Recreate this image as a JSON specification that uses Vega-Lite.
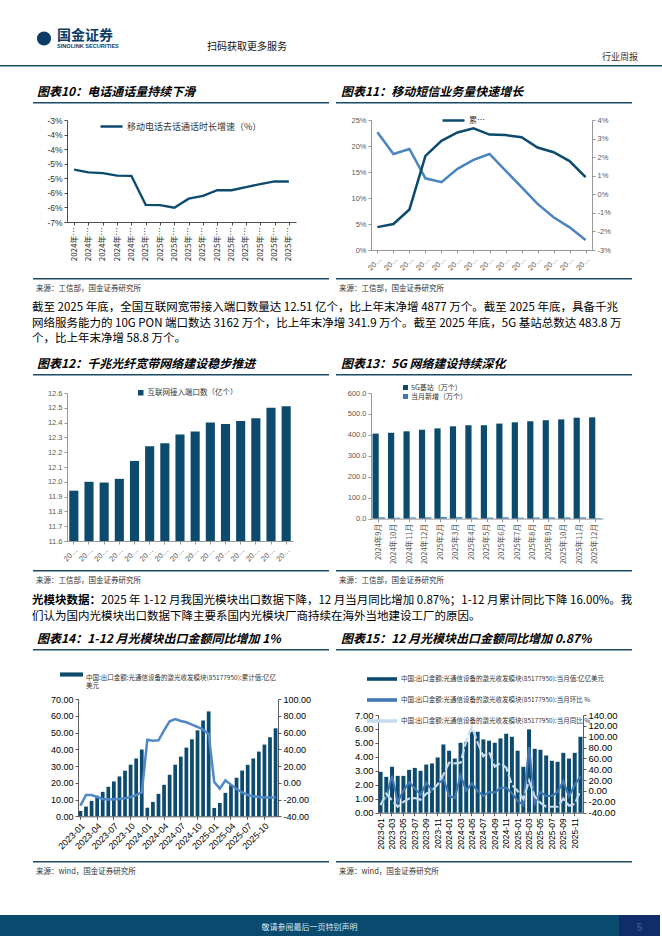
{
"$schema": "https://vega.github.io/schema/vega-lite/v6.json",
"background": "#ffffff",
"padding": 0,
"autosize": {"type": "pad"},
"bounds": "flush",
"align": "each",
"spacing": 0,
"columns": 7,
"resolve": {"scale": {"color": "independent", "strokeDash": "independent"}, "legend": {"color": "independent", "strokeDash": "independent"}},
"config": {
  "view": {"stroke": null},
  "font": "Noto Sans CJK SC",
  "axis": {"grid": false, "title": null, "labelFont": "Liberation Sans", "labelColor": "#404040", "labelFontSize": 8, "domainColor": "#7f7f7f", "tickColor": "#7f7f7f", "domainWidth": 0.8, "tickWidth": 0.8, "tickSize": 3, "labelPadding": 2},
  "legend": {"title": null, "orient": "none", "labelFont": "Noto Sans CJK SC", "labelColor": "#333333", "labelLimit": 400},
  "title": {"font": "Noto Sans CJK SC", "color": "#000000", "anchor": "start"}
},
"concat": [
  {"width": 33, "height": 30, "data": {"values": []}, "mark": "point", "view": {"fill": "#ffffff", "stroke": null}},
  {"width": 1, "height": 1, "data": {"values": []}, "mark": "point"},
  {"width": 1, "height": 1, "data": {"values": []}, "mark": "point",
   "title": {"text": "国金证券", "subtitle": "SINOLINK SECURITIES", "orient": "top", "anchor": "start", "offset": -49.5, "dx": -10, "fontSize": 14, "fontWeight": "bold", "color": "#0c3c66", "subtitleFont": "Liberation Sans", "subtitleFontSize": 5.6, "subtitleFontWeight": "bold", "subtitleColor": "#0c3c66", "subtitlePadding": 1}},
  {"width": 1, "height": 1, "data": {"values": []}, "mark": "point"},
  {"width": 1, "height": 1, "data": {"values": []}, "mark": "point"},
  {"width": 261, "height": 1, "data": {"values": []}, "mark": "point",
   "title": {"text": "行业周报", "orient": "top", "anchor": "end", "offset": -61.5, "dx": 6, "fontSize": 9, "fontWeight": "normal", "color": "#333333"}},
  {"width": 1, "height": 1, "data": {"values": []}, "mark": "point"},

  {"width": 1, "height": 34.5, "data": {"values": []}, "mark": "point"},
  {"width": 22, "height": 17, "data": {"values": [{"n": "logo"}]}, "mark": {"type": "point", "shape": "circle", "filled": true, "size": 200, "color": "#0c3c66", "opacity": 1}},
  {"width": 1, "height": 1, "data": {"values": []}, "mark": "point",
   "title": {"text": "扫码获取更多服务", "orient": "top", "anchor": "start", "offset": -22, "dx": 140, "fontSize": 10, "fontWeight": "normal", "color": "#111111"}},
  {"width": 1, "height": 1, "data": {"values": []}, "mark": "point"},
  {"width": 1, "height": 1, "data": {"values": []}, "mark": "point"},
  {"width": 1, "height": 1, "data": {"values": []}, "mark": "point"},
  {"width": 1, "height": 1, "data": {"values": []}, "mark": "point"},

  {"width": 33, "height": 1.5, "data": {"values": []}, "mark": "point", "view": {"fill": "#174a63", "stroke": null}},
  {"width": 34, "height": 1.5, "data": {"values": []}, "mark": "point", "view": {"fill": "#174a63", "stroke": null}},
  {"width": 262, "height": 1.5, "data": {"values": []}, "mark": "point", "view": {"fill": "#174a63", "stroke": null}},
  {"width": 7, "height": 1.5, "data": {"values": []}, "mark": "point", "view": {"fill": "#174a63", "stroke": null}},
  {"width": 35, "height": 1.5, "data": {"values": []}, "mark": "point", "view": {"fill": "#174a63", "stroke": null}},
  {"width": 261, "height": 1.5, "data": {"values": []}, "mark": "point", "view": {"fill": "#174a63", "stroke": null}},
  {"width": 30, "height": 1.5, "data": {"values": []}, "mark": "point", "view": {"fill": "#174a63", "stroke": null}},

  {"width": 1, "height": 34.5, "data": {"values": []}, "mark": "point"},
  {"width": 1, "height": 1, "data": {"values": []}, "mark": "point"},
  {"width": 1, "height": 1, "data": {"values": []}, "mark": "point"},
  {"width": 1, "height": 1, "data": {"values": []}, "mark": "point"},
  {"width": 1, "height": 1, "data": {"values": []}, "mark": "point"},
  {"width": 1, "height": 1, "data": {"values": []}, "mark": "point"},
  {"width": 1, "height": 1, "data": {"values": []}, "mark": "point"},

  {"width": 1, "height": 1, "data": {"values": []}, "mark": "point"},
  {"width": 34, "height": 1.5, "data": {"values": []}, "mark": "point", "view": {"fill": "#1a4a66", "stroke": null},
   "title": {"text": "图表10：电话通话量持续下滑", "orient": "top", "anchor": "start", "offset": 3, "dx": 4, "fontSize": 12, "fontWeight": "bold", "fontStyle": "italic", "color": "#000000"}},
  {"width": 262, "height": 1.5, "data": {"values": []}, "mark": "point", "view": {"fill": "#1a4a66", "stroke": null}},
  {"width": 1, "height": 1, "data": {"values": []}, "mark": "point"},
  {"width": 35, "height": 1.5, "data": {"values": []}, "mark": "point", "view": {"fill": "#1a4a66", "stroke": null},
   "title": {"text": "图表11：移动短信业务量快速增长", "orient": "top", "anchor": "start", "offset": 3, "dx": 5, "fontSize": 12, "fontWeight": "bold", "fontStyle": "italic", "color": "#000000"}},
  {"width": 261, "height": 1.5, "data": {"values": []}, "mark": "point", "view": {"fill": "#1a4a66", "stroke": null}},
  {"width": 1, "height": 1, "data": {"values": []}, "mark": "point"},

  {"width": 1, "height": 16, "data": {"values": []}, "mark": "point"},
  {"width": 1, "height": 1, "data": {"values": []}, "mark": "point"},
  {"width": 1, "height": 1, "data": {"values": []}, "mark": "point"},
  {"width": 1, "height": 1, "data": {"values": []}, "mark": "point"},
  {"width": 1, "height": 1, "data": {"values": []}, "mark": "point"},
  {"width": 1, "height": 1, "data": {"values": []}, "mark": "point"},
  {"width": 1, "height": 1, "data": {"values": []}, "mark": "point"},

  {"width": 1, "height": 1, "data": {"values": []}, "mark": "point"},
  {"width": 1, "height": 1, "data": {"values": []}, "mark": "point"},
  {"width": 229, "height": 102,
   "data": {"values": [
     {"p": "2024年1-8月", "v": -4.70}, {"p": "2024年1-9月", "v": -4.80}, {"p": "2024年1-10月", "v": -4.82},
     {"p": "2024年1-11月", "v": -4.91}, {"p": "2024年1-12月", "v": -4.92}, {"p": "2025年1-2月", "v": -5.91},
     {"p": "2025年1-3月", "v": -5.92}, {"p": "2025年1-4月", "v": -6.01}, {"p": "2025年1-5月", "v": -5.70},
     {"p": "2025年1-6月", "v": -5.60}, {"p": "2025年1-7月", "v": -5.41}, {"p": "2025年1-8月", "v": -5.41},
     {"p": "2025年1-9月", "v": -5.30}, {"p": "2025年1-10月", "v": -5.20}, {"p": "2025年1-11月", "v": -5.11},
     {"p": "2025年1-12月", "v": -5.11}
   ]},
   "mark": {"type": "line", "strokeWidth": 2.3},
   "encoding": {
     "x": {"field": "p", "type": "ordinal", "sort": null, "scale": {"type": "point", "padding": 0.5},
           "axis": {"labelAngle": -90, "labelLimit": 34, "labelFontSize": 8, "labelFont": "Noto Sans CJK SC", "labelColor": "#333333", "domainColor": "#222222", "tickColor": "#222222"}},
     "y": {"field": "v", "type": "quantitative", "scale": {"domain": [-6.5, -3], "zero": false, "nice": false},
           "axis": {"values": [-3, -3.5, -4, -4.5, -5, -5.5, -6, -6.5], "labelExpr": "replace(format(datum.value, '.0f'), '−', '-') + '%'", "labelFontSize": 8.5, "labelColor": "#333333", "domainColor": "#222222", "tickColor": "#222222"}},
     "color": {"datum": "移动电话去话通话时长增速（%）", "scale": {"range": ["#0d4b6e"]},
               "legend": {"orient": "none", "legendX": 32, "legendY": -6, "symbolType": "stroke", "symbolSize": 484, "symbolStrokeWidth": 2.5, "labelFontSize": 9, "labelOffset": 3}}
   }},
  {"width": 1, "height": 1, "data": {"values": []}, "mark": "point"},
  {"width": 1, "height": 1, "data": {"values": []}, "mark": "point"},
  {"width": 221, "height": 130,
   "data": {"values": [
     {"c": "2024年11月", "d": 0.044, "l": 0.0334}, {"c": "2024年12月", "d": 0.050, "l": 0.0217},
     {"c": "2025年1月", "d": 0.078, "l": 0.0244}, {"c": "2025年2月", "d": 0.181, "l": 0.0086},
     {"c": "2025年3月", "d": 0.210, "l": 0.0065}, {"c": "2025年4月", "d": 0.226, "l": 0.0137},
     {"c": "2025年5月", "d": 0.234, "l": 0.0185}, {"c": "2025年6月", "d": 0.222, "l": 0.0217},
     {"c": "2025年7月", "d": 0.221, "l": 0.0128}, {"c": "2025年8月", "d": 0.217, "l": 0.0038},
     {"c": "2025年9月", "d": 0.197, "l": -0.0052}, {"c": "2025年10月", "d": 0.188, "l": -0.0124},
     {"c": "2025年11月", "d": 0.171, "l": -0.0178}, {"c": "2025年12月", "d": 0.140, "l": -0.0246}
   ]},
   "encoding": {
     "x": {"field": "c", "type": "ordinal", "sort": null, "scale": {"type": "point", "padding": 0.4},
           "axis": {"labelAngle": -45, "labelLimit": 18, "labelFontSize": 7.5, "labelColor": "#595959"}}
   },
   "layer": [
     {"mark": {"type": "line", "strokeWidth": 2.5, "color": "#4a85bf"},
      "encoding": {"y": {"field": "l", "type": "quantitative", "scale": {"domain": [-0.03, 0.04], "nice": false, "zero": false},
                         "axis": {"orient": "right", "values": [-0.03, -0.02, -0.01, 0, 0.01, 0.02, 0.03, 0.04], "labelExpr": "replace(format(datum.value, '.0%'), '−', '-')", "labelFontSize": 7.5, "labelColor": "#595959"}}}},
     {"mark": {"type": "line", "strokeWidth": 2.5},
      "encoding": {"y": {"field": "d", "type": "quantitative", "scale": {"domain": [0, 0.25], "nice": false},
                         "axis": {"orient": "left", "values": [0, 0.05, 0.1, 0.15, 0.2, 0.25], "format": ".0%", "labelFontSize": 7.5, "labelColor": "#595959"}},
                   "color": {"datum": "累计短信业务量同比增速", "scale": {"range": ["#0d4b6e"]},
                             "legend": {"orient": "none", "legendX": 70, "legendY": -12, "symbolType": "stroke", "symbolSize": 484, "symbolStrokeWidth": 2.5, "labelFontSize": 8, "labelLimit": 18, "labelOffset": 3}}}}
   ],
   "resolve": {"scale": {"y": "independent"}}},
  {"width": 1, "height": 1, "data": {"values": []}, "mark": "point"},

  {"width": 1, "height": 27.5, "data": {"values": []}, "mark": "point"},
  {"width": 1, "height": 1, "data": {"values": []}, "mark": "point"},
  {"width": 1, "height": 1, "data": {"values": []}, "mark": "point"},
  {"width": 1, "height": 1, "data": {"values": []}, "mark": "point"},
  {"width": 1, "height": 1, "data": {"values": []}, "mark": "point"},
  {"width": 1, "height": 1, "data": {"values": []}, "mark": "point"},
  {"width": 1, "height": 1, "data": {"values": []}, "mark": "point"},

  {"width": 1, "height": 1, "data": {"values": []}, "mark": "point"},
  {"width": 34, "height": 1.5, "data": {"values": []}, "mark": "point", "view": {"fill": "#1a4a66", "stroke": null},
   "title": {"text": "来源：工信部，国金证券研究所", "orient": "bottom", "anchor": "start", "offset": 5, "dx": 3, "fontSize": 7.5, "fontWeight": "normal", "color": "#333333"}},
  {"width": 262, "height": 1.5, "data": {"values": []}, "mark": "point", "view": {"fill": "#1a4a66", "stroke": null}},
  {"width": 1, "height": 1, "data": {"values": []}, "mark": "point"},
  {"width": 35, "height": 1.5, "data": {"values": []}, "mark": "point", "view": {"fill": "#1a4a66", "stroke": null},
   "title": {"text": "来源：工信部，国金证券研究所", "orient": "bottom", "anchor": "start", "offset": 5, "dx": 3, "fontSize": 7.5, "fontWeight": "normal", "color": "#333333"}},
  {"width": 261, "height": 1.5, "data": {"values": []}, "mark": "point", "view": {"fill": "#1a4a66", "stroke": null}},
  {"width": 1, "height": 1, "data": {"values": []}, "mark": "point"},

  {"width": 1, "height": 21, "data": {"values": []}, "mark": "point"},
  {"width": 1, "height": 1, "data": {"values": []}, "mark": "point"},
  {"width": 1, "height": 1, "data": {"values": []}, "mark": "point"},
  {"width": 1, "height": 1, "data": {"values": []}, "mark": "point"},
  {"width": 1, "height": 1, "data": {"values": []}, "mark": "point"},
  {"width": 1, "height": 1, "data": {"values": []}, "mark": "point"},
  {"width": 1, "height": 1, "data": {"values": []}, "mark": "point"},

  {"width": 1, "height": 1, "data": {"values": []}, "mark": "point"},
  {"width": 1, "height": 1, "data": {"values": []}, "mark": "point",
   "title": {"text": ["截至 2025 年底，全国互联网宽带接入端口数量达 12.51 亿个，比上年末净增 4877 万个。截至 2025 年底，具备千兆", "网络服务能力的 10G PON 端口数达 3162 万个，比上年末净增 341.9 万个。截至 2025 年底，5G 基站总数达 483.8 万", "个，比上年末净增 58.8 万个。"], "orient": "bottom", "anchor": "start", "offset": 0, "dx": -1, "fontSize": 11.5, "fontWeight": "normal", "lineHeight": 15.5, "color": "#000000"}},
  {"width": 1, "height": 1, "data": {"values": []}, "mark": "point"},
  {"width": 1, "height": 1, "data": {"values": []}, "mark": "point"},
  {"width": 1, "height": 1, "data": {"values": []}, "mark": "point"},
  {"width": 1, "height": 1, "data": {"values": []}, "mark": "point"},
  {"width": 1, "height": 1, "data": {"values": []}, "mark": "point"},

  {"width": 1, "height": 71.5, "data": {"values": []}, "mark": "point"},
  {"width": 1, "height": 1, "data": {"values": []}, "mark": "point"},
  {"width": 1, "height": 1, "data": {"values": []}, "mark": "point"},
  {"width": 1, "height": 1, "data": {"values": []}, "mark": "point"},
  {"width": 1, "height": 1, "data": {"values": []}, "mark": "point"},
  {"width": 1, "height": 1, "data": {"values": []}, "mark": "point"},
  {"width": 1, "height": 1, "data": {"values": []}, "mark": "point"},

  {"width": 1, "height": 1, "data": {"values": []}, "mark": "point"},
  {"width": 34, "height": 1.5, "data": {"values": []}, "mark": "point", "view": {"fill": "#1a4a66", "stroke": null},
   "title": {"text": "图表12：千兆光纤宽带网络建设稳步推进", "orient": "top", "anchor": "start", "offset": 3, "dx": 4, "fontSize": 12, "fontWeight": "bold", "fontStyle": "italic", "color": "#000000"}},
  {"width": 262, "height": 1.5, "data": {"values": []}, "mark": "point", "view": {"fill": "#1a4a66", "stroke": null}},
  {"width": 1, "height": 1, "data": {"values": []}, "mark": "point"},
  {"width": 35, "height": 1.5, "data": {"values": []}, "mark": "point", "view": {"fill": "#1a4a66", "stroke": null},
   "title": {"text": "图表13：5G 网络建设持续深化", "orient": "top", "anchor": "start", "offset": 3, "dx": 5, "fontSize": 12, "fontWeight": "bold", "fontStyle": "italic", "color": "#000000"}},
  {"width": 261, "height": 1.5, "data": {"values": []}, "mark": "point", "view": {"fill": "#1a4a66", "stroke": null}},
  {"width": 1, "height": 1, "data": {"values": []}, "mark": "point"},

  {"width": 1, "height": 17, "data": {"values": []}, "mark": "point"},
  {"width": 1, "height": 1, "data": {"values": []}, "mark": "point"},
  {"width": 1, "height": 1, "data": {"values": []}, "mark": "point"},
  {"width": 1, "height": 1, "data": {"values": []}, "mark": "point"},
  {"width": 1, "height": 1, "data": {"values": []}, "mark": "point"},
  {"width": 1, "height": 1, "data": {"values": []}, "mark": "point"},
  {"width": 1, "height": 1, "data": {"values": []}, "mark": "point"},

  {"width": 1, "height": 1, "data": {"values": []}, "mark": "point"},
  {"width": 1, "height": 1, "data": {"values": []}, "mark": "point"},
  {"width": 226, "height": 148,
   "data": {"values": [
     {"c": "2024年9月", "v": 11.94}, {"c": "2024年10月", "v": 12.00}, {"c": "2024年11月", "v": 11.995},
     {"c": "2024年12月", "v": 12.02}, {"c": "2025年2月", "v": 12.14}, {"c": "2025年3月", "v": 12.24},
     {"c": "2025年4月", "v": 12.26}, {"c": "2025年5月", "v": 12.32}, {"c": "2025年6月", "v": 12.34},
     {"c": "2025年7月", "v": 12.40}, {"c": "2025年8月", "v": 12.39}, {"c": "2025年9月", "v": 12.41},
     {"c": "2025年10月", "v": 12.43}, {"c": "2025年11月", "v": 12.50}, {"c": "2025年12月", "v": 12.51}
   ]},
   "mark": {"type": "bar", "clip": true},
   "encoding": {
     "x": {"field": "c", "type": "ordinal", "sort": null, "scale": {"paddingInner": 0.4, "paddingOuter": 0.15},
           "axis": {"labelAngle": -45, "labelLimit": 17, "labelFontSize": 7.5, "labelColor": "#595959"}},
     "y": {"field": "v", "type": "quantitative", "scale": {"domain": [11.6, 12.6], "zero": false, "nice": false},
           "axis": {"values": [11.6, 11.7, 11.8, 11.9, 12.0, 12.1, 12.2, 12.3, 12.4, 12.5, 12.6], "format": ".1f", "labelFontSize": 7.5, "labelColor": "#595959"}},
     "y2": {"datum": 11.6},
     "color": {"datum": "互联网接入端口数（亿个）", "scale": {"range": ["#0d4b6e"]},
               "legend": {"orient": "none", "legendX": 70, "legendY": -4, "symbolType": "square", "symbolSize": 30, "labelFontSize": 7.5, "labelOffset": 3}}
   }},
  {"width": 1, "height": 1, "data": {"values": []}, "mark": "point"},
  {"width": 1, "height": 1, "data": {"values": []}, "mark": "point"},
  {"width": 232, "height": 125.6,
   "data": {"values": [
     {"c": "2024年9月", "s": "5G基站（万个）", "v": 406}, {"c": "2024年10月", "s": "5G基站（万个）", "v": 410},
     {"c": "2024年11月", "s": "5G基站（万个）", "v": 417}, {"c": "2024年12月", "s": "5G基站（万个）", "v": 425},
     {"c": "2025年2月", "s": "5G基站（万个）", "v": 431}, {"c": "2025年3月", "s": "5G基站（万个）", "v": 441},
     {"c": "2025年4月", "s": "5G基站（万个）", "v": 446}, {"c": "2025年5月", "s": "5G基站（万个）", "v": 446},
     {"c": "2025年6月", "s": "5G基站（万个）", "v": 454}, {"c": "2025年7月", "s": "5G基站（万个）", "v": 460},
     {"c": "2025年8月", "s": "5G基站（万个）", "v": 465}, {"c": "2025年9月", "s": "5G基站（万个）", "v": 470},
     {"c": "2025年10月", "s": "5G基站（万个）", "v": 474}, {"c": "2025年11月", "s": "5G基站（万个）", "v": 482},
     {"c": "2025年12月", "s": "5G基站（万个）", "v": 483.8},
     {"c": "2024年9月", "s": "当月新增（万个）", "v": 5.9}, {"c": "2024年10月", "s": "当月新增（万个）", "v": 4.1},
     {"c": "2024年11月", "s": "当月新增（万个）", "v": 5.0}, {"c": "2024年12月", "s": "当月新增（万个）", "v": 5.9},
     {"c": "2025年2月", "s": "当月新增（万个）", "v": 7.5}, {"c": "2025年3月", "s": "当月新增（万个）", "v": 7.0},
     {"c": "2025年4月", "s": "当月新增（万个）", "v": 4.4}, {"c": "2025年5月", "s": "当月新增（万个）", "v": 4.7},
     {"c": "2025年6月", "s": "当月新增（万个）", "v": 6.3}, {"c": "2025年7月", "s": "当月新增（万个）", "v": 4.2},
     {"c": "2025年8月", "s": "当月新增（万个）", "v": 5.4}, {"c": "2025年9月", "s": "当月新增（万个）", "v": 5.5},
     {"c": "2025年10月", "s": "当月新增（万个）", "v": 5.6}, {"c": "2025年11月", "s": "当月新增（万个）", "v": 5.6},
     {"c": "2025年12月", "s": "当月新增（万个）", "v": 2.6}
   ]},
   "mark": {"type": "bar"},
   "encoding": {
     "x": {"field": "c", "type": "ordinal", "sort": null, "scale": {"paddingInner": 0.2, "paddingOuter": 0.1},
           "axis": {"labelAngle": -90, "labelFontSize": 7.5, "labelColor": "#595959", "labelFont": "Noto Sans CJK SC"}},
     "xOffset": {"field": "s", "sort": null},
     "y": {"field": "v", "type": "quantitative", "scale": {"domain": [0, 600], "nice": false},
           "axis": {"values": [0, 100, 200, 300, 400, 500, 600], "format": ".1f", "labelFontSize": 7.5, "labelColor": "#595959"}},
     "color": {"field": "s", "type": "nominal", "sort": null, "scale": {"domain": ["5G基站（万个）", "当月新增（万个）"], "range": ["#0d4b6e", "#3a78b5"]},
               "legend": {"orient": "none", "legendX": 31, "legendY": -9, "direction": "vertical", "symbolType": "square", "symbolSize": 25, "labelFontSize": 7, "labelOffset": 2, "rowPadding": 1}}
   }},
  {"width": 1, "height": 1, "data": {"values": []}, "mark": "point"},

  {"width": 1, "height": 29, "data": {"values": []}, "mark": "point"},
  {"width": 1, "height": 1, "data": {"values": []}, "mark": "point"},
  {"width": 1, "height": 1, "data": {"values": []}, "mark": "point"},
  {"width": 1, "height": 1, "data": {"values": []}, "mark": "point"},
  {"width": 1, "height": 1, "data": {"values": []}, "mark": "point"},
  {"width": 1, "height": 1, "data": {"values": []}, "mark": "point"},
  {"width": 1, "height": 1, "data": {"values": []}, "mark": "point"},

  {"width": 1, "height": 1, "data": {"values": []}, "mark": "point"},
  {"width": 34, "height": 1.5, "data": {"values": []}, "mark": "point", "view": {"fill": "#1a4a66", "stroke": null},
   "title": {"text": "来源：工信部，国金证券研究所", "orient": "bottom", "anchor": "start", "offset": 5, "dx": 3, "fontSize": 7.5, "fontWeight": "normal", "color": "#333333"}},
  {"width": 262, "height": 1.5, "data": {"values": []}, "mark": "point", "view": {"fill": "#1a4a66", "stroke": null}},
  {"width": 1, "height": 1, "data": {"values": []}, "mark": "point"},
  {"width": 35, "height": 1.5, "data": {"values": []}, "mark": "point", "view": {"fill": "#1a4a66", "stroke": null},
   "title": {"text": "来源：工信部，国金证券研究所", "orient": "bottom", "anchor": "start", "offset": 5, "dx": 3, "fontSize": 7.5, "fontWeight": "normal", "color": "#333333"}},
  {"width": 261, "height": 1.5, "data": {"values": []}, "mark": "point", "view": {"fill": "#1a4a66", "stroke": null}},
  {"width": 1, "height": 1, "data": {"values": []}, "mark": "point"},

  {"width": 1, "height": 21.5, "data": {"values": []}, "mark": "point"},
  {"width": 1, "height": 1, "data": {"values": []}, "mark": "point"},
  {"width": 1, "height": 1, "data": {"values": []}, "mark": "point"},
  {"width": 1, "height": 1, "data": {"values": []}, "mark": "point"},
  {"width": 1, "height": 1, "data": {"values": []}, "mark": "point"},
  {"width": 1, "height": 1, "data": {"values": []}, "mark": "point"},
  {"width": 1, "height": 1, "data": {"values": []}, "mark": "point"},

  {"width": 1, "height": 1, "data": {"values": []}, "mark": "point"},
  {"width": 1, "height": 1, "data": {"values": []}, "mark": "point",
   "title": {"text": "光模块数据：", "subtitle": "们认为国内光模块出口数据下降主要系国内光模块厂商持续在海外当地建设工厂的原因。", "orient": "bottom", "anchor": "start", "offset": 0, "dx": -1, "fontSize": 11.5, "fontWeight": "bold", "color": "#000000", "subtitleFont": "Noto Sans CJK SC", "subtitleFontSize": 11.5, "subtitleFontWeight": "normal", "subtitleColor": "#000000", "subtitlePadding": 4}},
  {"width": 1, "height": 1, "data": {"values": []}, "mark": "point",
   "title": {"text": "2025 年 1-12 月我国光模块出口数据下降，12 月当月同比增加 0.87%；1-12 月累计同比下降 16.00%。我", "orient": "bottom", "anchor": "start", "offset": 0, "dx": 34, "fontSize": 11.5, "fontWeight": "normal", "color": "#000000"}},
  {"width": 1, "height": 1, "data": {"values": []}, "mark": "point"},
  {"width": 1, "height": 1, "data": {"values": []}, "mark": "point"},
  {"width": 1, "height": 1, "data": {"values": []}, "mark": "point"},
  {"width": 1, "height": 1, "data": {"values": []}, "mark": "point"},

  {"width": 1, "height": 54, "data": {"values": []}, "mark": "point"},
  {"width": 1, "height": 1, "data": {"values": []}, "mark": "point"},
  {"width": 1, "height": 1, "data": {"values": []}, "mark": "point"},
  {"width": 1, "height": 1, "data": {"values": []}, "mark": "point"},
  {"width": 1, "height": 1, "data": {"values": []}, "mark": "point"},
  {"width": 1, "height": 1, "data": {"values": []}, "mark": "point"},
  {"width": 1, "height": 1, "data": {"values": []}, "mark": "point"},

  {"width": 1, "height": 1, "data": {"values": []}, "mark": "point"},
  {"width": 34, "height": 1.5, "data": {"values": []}, "mark": "point", "view": {"fill": "#1a4a66", "stroke": null},
   "title": {"text": "图表14：1-12 月光模块出口金额同比增加 1%", "orient": "top", "anchor": "start", "offset": 3, "dx": 4, "fontSize": 12, "fontWeight": "bold", "fontStyle": "italic", "color": "#000000"}},
  {"width": 262, "height": 1.5, "data": {"values": []}, "mark": "point", "view": {"fill": "#1a4a66", "stroke": null}},
  {"width": 1, "height": 1, "data": {"values": []}, "mark": "point"},
  {"width": 35, "height": 1.5, "data": {"values": []}, "mark": "point", "view": {"fill": "#1a4a66", "stroke": null},
   "title": {"text": "图表15：12 月光模块出口金额同比增加 0.87%", "orient": "top", "anchor": "start", "offset": 3, "dx": 5, "fontSize": 12, "fontWeight": "bold", "fontStyle": "italic", "color": "#000000"}},
  {"width": 261, "height": 1.5, "data": {"values": []}, "mark": "point", "view": {"fill": "#1a4a66", "stroke": null}},
  {"width": 1, "height": 1, "data": {"values": []}, "mark": "point"},

  {"width": 1, "height": 46.2, "data": {"values": []}, "mark": "point"},
  {"width": 1, "height": 1, "data": {"values": []}, "mark": "point"},
  {"width": 1, "height": 1, "data": {"values": []}, "mark": "point"},
  {"width": 1, "height": 1, "data": {"values": []}, "mark": "point"},
  {"width": 1, "height": 1, "data": {"values": []}, "mark": "point"},
  {"width": 1, "height": 1, "data": {"values": []}, "mark": "point"},
  {"width": 1, "height": 1, "data": {"values": []}, "mark": "point"},

  {"width": 1, "height": 118.3, "data": {"values": []}, "mark": "point"},
  {"width": 1, "height": 1, "data": {"values": []}, "mark": "point"},
  {"vconcat": [
    {"width": 1, "height": 1, "data": {"values": []}, "mark": "point"},
    {"hconcat": [
      {"width": 11, "height": 1, "data": {"values": []}, "mark": "point"},
      {"width": 200, "height": 117.3,
       "data": {"values": [
         {"m": "2023-01", "cum": 3.2, "cyoy": -27.3}, {"m": "2023-02", "cum": 5.8, "cyoy": -14.6}, {"m": "2023-03", "cum": 9.2, "cyoy": -14.6},
         {"m": "2023-04", "cum": 12.3, "cyoy": -17.0}, {"m": "2023-05", "cum": 14.6, "cyoy": -19.3}, {"m": "2023-06", "cum": 17.6, "cyoy": -20.0},
         {"m": "2023-07", "cum": 20.8, "cyoy": -19.7}, {"m": "2023-08", "cum": 23.8, "cyoy": -19.3}, {"m": "2023-09", "cum": 27.2, "cyoy": -18.5},
         {"m": "2023-10", "cum": 30.8, "cyoy": -17.0}, {"m": "2023-11", "cum": 34.5, "cyoy": -14.6}, {"m": "2023-12", "cum": 39.8, "cyoy": -11.4},
         {"m": "2024-01", "cum": 5.1, "cyoy": 51.5}, {"m": "2024-02", "cum": 8.6, "cyoy": 50.3}, {"m": "2024-03", "cum": 13.4, "cyoy": 50.7},
         {"m": "2024-04", "cum": 18.8, "cyoy": 62.6}, {"m": "2024-05", "cum": 24.8, "cyoy": 73.3}, {"m": "2024-06", "cum": 30.8, "cyoy": 76.1},
         {"m": "2024-07", "cum": 35.6, "cyoy": 73.7}, {"m": "2024-08", "cum": 41.0, "cyoy": 72.2}, {"m": "2024-09", "cum": 46.0, "cyoy": 69.4},
         {"m": "2024-10", "cum": 51.3, "cyoy": 66.6}, {"m": "2024-11", "cum": 57.2, "cyoy": 63.4}, {"m": "2024-12", "cum": 62.6, "cyoy": 58.3},
         {"m": "2025-01", "cum": 5.0, "cyoy": 1.0}, {"m": "2025-02", "cum": 8.0, "cyoy": -7.0}, {"m": "2025-03", "cum": 14.0, "cyoy": 3.0},
         {"m": "2025-04", "cum": 18.6, "cyoy": -2.2}, {"m": "2025-05", "cum": 23.0, "cyoy": -7.4}, {"m": "2025-06", "cum": 27.3, "cyoy": -11.4},
         {"m": "2025-07", "cum": 30.7, "cyoy": -14.6}, {"m": "2025-08", "cum": 34.5, "cyoy": -16.1}, {"m": "2025-09", "cum": 38.6, "cyoy": -17.0},
         {"m": "2025-10", "cum": 42.8, "cyoy": -17.7}, {"m": "2025-11", "cum": 47.2, "cyoy": -17.7}, {"m": "2025-12", "cum": 52.5, "cyoy": -17.3}
       ]},
       "encoding": {
         "x": {"field": "m", "type": "ordinal", "sort": null, "scale": {"paddingInner": 0.33, "paddingOuter": 0.1},
               "axis": {"values": ["2023-01", "2023-04", "2023-07", "2023-10", "2024-01", "2024-04", "2024-07", "2024-10", "2025-01", "2025-04", "2025-07", "2025-10"], "labelAngle": -45, "labelFontSize": 9, "labelColor": "#000000", "domainColor": "#333333", "tickColor": "#333333"}}
       },
       "layer": [
         {"mark": {"type": "bar"},
          "encoding": {
            "y": {"field": "cum", "type": "quantitative", "stack": null, "scale": {"domain": [0, 70], "nice": false},
                  "axis": {"values": [0, 10, 20, 30, 40, 50, 60, 70], "format": ".2f", "labelFontSize": 9, "labelColor": "#000000", "domainColor": "#333333", "tickColor": "#333333"}},
            "color": {"datum": "cum", "type": "nominal", "scale": {"domain": ["cum", "cyoy"], "range": ["#0d4b6e", "#5088c8"]},
                      "legend": {"orient": "none", "legendX": -18, "legendY": -36, "values": ["cum"], "symbolType": "M-1,-0.18H1V0.18H-1Z", "symbolSize": 529, "symbolStrokeWidth": 0, "labelFontSize": 6.5, "labelOffset": 3, "labelLimit": 400, "labelBaseline": "top",
                                 "labelExpr": "['中国:出口金额:光通信设备的激光收发模块(85177950):累计值:亿亿', '美元']"}}
          }},
         {"mark": {"type": "line", "strokeWidth": 2.5},
          "encoding": {
            "y": {"field": "cyoy", "type": "quantitative", "scale": {"domain": [-40, 100], "nice": false, "zero": false},
                  "axis": {"orient": "right", "values": [-40, -20, 0, 20, 40, 60, 80, 100], "labelExpr": "replace(format(datum.value, '.2f'), '−', '-')", "labelFontSize": 9, "labelColor": "#000000", "domainColor": "#333333", "tickColor": "#333333"}},
            "color": {"datum": "cyoy", "type": "nominal"}
          }}
       ],
       "resolve": {"scale": {"y": "independent"}}}
    ], "bounds": "flush", "spacing": 0, "resolve": {"scale": {"color": "independent"}, "legend": {"color": "independent"}}}
  ], "bounds": "flush", "spacing": 0, "resolve": {"scale": {"color": "independent"}, "legend": {"color": "independent"}}},
  {"width": 1, "height": 1, "data": {"values": []}, "mark": "point"},
  {"width": 1, "height": 1, "data": {"values": []}, "mark": "point"},
  {"vconcat": [
    {"width": 1, "height": 16.3, "data": {"values": []}, "mark": "point"},
    {"hconcat": [
      {"width": 7, "height": 1, "data": {"values": []}, "mark": "point"},
      {"width": 205, "height": 97.7,
       "data": {"values": [
         {"m": "2023-01", "val": 2.93, "mom": -26, "yoy": -26}, {"m": "2023-02", "val": 2.57, "mom": -12, "yoy": -5},
         {"m": "2023-03", "val": 3.29, "mom": 28, "yoy": -17}, {"m": "2023-04", "val": 2.64, "mom": -20, "yoy": -29},
         {"m": "2023-05", "val": 2.64, "mom": 0, "yoy": -20}, {"m": "2023-06", "val": 3.07, "mom": 16, "yoy": -14},
         {"m": "2023-07", "val": 3.21, "mom": 5, "yoy": -13}, {"m": "2023-08", "val": 3.00, "mom": -7, "yoy": -16},
         {"m": "2023-09", "val": 3.45, "mom": 15, "yoy": -5}, {"m": "2023-10", "val": 3.53, "mom": 2, "yoy": 0},
         {"m": "2023-11", "val": 3.96, "mom": 12, "yoy": 12}, {"m": "2023-12", "val": 4.89, "mom": 23, "yoy": 30},
         {"m": "2024-01", "val": 4.44, "mom": -9, "yoy": 52}, {"m": "2024-02", "val": 3.88, "mom": -13, "yoy": 51},
         {"m": "2024-03", "val": 5.01, "mom": 29, "yoy": 52}, {"m": "2024-04", "val": 5.08, "mom": 1, "yoy": 92},
         {"m": "2024-05", "val": 5.80, "mom": 14, "yoy": 118}, {"m": "2024-06", "val": 5.80, "mom": 0, "yoy": 89},
         {"m": "2024-07", "val": 5.25, "mom": -9, "yoy": 64}, {"m": "2024-08", "val": 5.16, "mom": -2, "yoy": 72},
         {"m": "2024-09", "val": 5.01, "mom": -3, "yoy": 45}, {"m": "2024-10", "val": 5.32, "mom": 6, "yoy": 51},
         {"m": "2024-11", "val": 5.66, "mom": 6, "yoy": 43}, {"m": "2024-12", "val": 5.44, "mom": -4, "yoy": 11},
         {"m": "2025-01", "val": 4.44, "mom": -18, "yoy": 0}, {"m": "2025-02", "val": 3.29, "mom": -26, "yoy": -15},
         {"m": "2025-03", "val": 5.97, "mom": 81, "yoy": 19}, {"m": "2025-04", "val": 4.58, "mom": -23, "yoy": -10},
         {"m": "2025-05", "val": 4.51, "mom": -2, "yoy": -22}, {"m": "2025-06", "val": 4.10, "mom": -9, "yoy": -29},
         {"m": "2025-07", "val": 3.72, "mom": -9, "yoy": -29}, {"m": "2025-08", "val": 3.65, "mom": -2, "yoy": -29},
         {"m": "2025-09", "val": 4.29, "mom": 18, "yoy": -14}, {"m": "2025-10", "val": 3.88, "mom": -10, "yoy": -27},
         {"m": "2025-11", "val": 4.29, "mom": 11, "yoy": -24}, {"m": "2025-12", "val": 5.44, "mom": 27, "yoy": 1}
       ]},
       "encoding": {
         "x": {"field": "m", "type": "ordinal", "sort": null, "scale": {"paddingInner": 0.3, "paddingOuter": 0.1},
               "axis": {"values": ["2023-01", "2023-03", "2023-05", "2023-07", "2023-09", "2023-11", "2024-01", "2024-03", "2024-05", "2024-07", "2024-09", "2024-11", "2025-01", "2025-03", "2025-05", "2025-07", "2025-09", "2025-11"], "labelAngle": -90, "labelFontSize": 8.5, "labelColor": "#000000", "domainColor": "#333333", "tickColor": "#333333"}}
       },
       "layer": [
         {"mark": {"type": "bar"},
          "encoding": {
            "y": {"field": "val", "type": "quantitative", "scale": {"domain": [0, 7], "nice": false},
                  "axis": {"values": [0, 1, 2, 3, 4, 5, 6, 7], "format": ".2f", "labelFontSize": 9.5, "labelColor": "#000000", "domainColor": "#333333", "tickColor": "#333333"}},
            "color": {"datum": "val", "type": "nominal", "scale": {"domain": ["val", "mom", "yoy"], "range": ["#0d4b6e", "#3f77b3", "#c6dbef"]},
                      "legend": {"orient": "none", "legendX": -11, "legendY": -51, "direction": "vertical", "symbolType": "M-1,-0.12H1V0.12H-1Z", "symbolSize": 900, "symbolStrokeWidth": 0, "labelFontSize": 6.5, "labelOffset": 4, "labelLimit": 400, "rowPadding": 2,
                                 "labelExpr": "datum.label == 'val' ? '中国:出口金额:光通信设备的激光收发模块(85177950):当月值:亿亿美元' : (datum.label == 'mom' ? '中国:出口金额:光通信设备的激光收发模块(85177950):当月环比 %' : '中国:出口金额:光通信设备的激光收发模块(85177950):当月同比 %')"}}
          }},
         {"transform": [{"fold": ["mom", "yoy"]}],
          "mark": {"type": "line", "strokeWidth": 2.2},
          "encoding": {
            "y": {"field": "value", "type": "quantitative", "scale": {"domain": [-40, 140], "nice": false, "zero": false},
                  "axis": {"orient": "right", "values": [-40, -20, 0, 20, 40, 60, 80, 100, 120, 140], "labelExpr": "replace(format(datum.value, '.2f'), '−', '-')", "labelFontSize": 9.5, "labelColor": "#000000", "domainColor": "#333333", "tickColor": "#333333"}},
            "color": {"field": "key", "type": "nominal"},
            "strokeDash": {"field": "key", "type": "nominal", "scale": {"domain": ["mom", "yoy"], "range": [[1, 0], [9, 3]]}, "legend": null}
          }}
       ],
       "resolve": {"scale": {"y": "independent"}}}
    ], "bounds": "flush", "spacing": 0, "resolve": {"scale": {"color": "independent", "strokeDash": "independent"}, "legend": {"color": "independent", "strokeDash": "independent"}}}
  ], "bounds": "flush", "spacing": 0, "resolve": {"scale": {"color": "independent", "strokeDash": "independent"}, "legend": {"color": "independent", "strokeDash": "independent"}}},
  {"width": 1, "height": 1, "data": {"values": []}, "mark": "point"},

  {"width": 1, "height": 44, "data": {"values": []}, "mark": "point"},
  {"width": 1, "height": 1, "data": {"values": []}, "mark": "point"},
  {"width": 1, "height": 1, "data": {"values": []}, "mark": "point"},
  {"width": 1, "height": 1, "data": {"values": []}, "mark": "point"},
  {"width": 1, "height": 1, "data": {"values": []}, "mark": "point"},
  {"width": 1, "height": 1, "data": {"values": []}, "mark": "point"},
  {"width": 1, "height": 1, "data": {"values": []}, "mark": "point"},

  {"width": 1, "height": 1, "data": {"values": []}, "mark": "point"},
  {"width": 34, "height": 1.5, "data": {"values": []}, "mark": "point", "view": {"fill": "#1a4a66", "stroke": null},
   "title": {"text": "来源：wind，国金证券研究所", "orient": "bottom", "anchor": "start", "offset": 5, "dx": 3, "fontSize": 7.5, "fontWeight": "normal", "color": "#333333"}},
  {"width": 262, "height": 1.5, "data": {"values": []}, "mark": "point", "view": {"fill": "#1a4a66", "stroke": null}},
  {"width": 1, "height": 1, "data": {"values": []}, "mark": "point"},
  {"width": 35, "height": 1.5, "data": {"values": []}, "mark": "point", "view": {"fill": "#1a4a66", "stroke": null},
   "title": {"text": "来源：wind，国金证券研究所", "orient": "bottom", "anchor": "start", "offset": 5, "dx": 3, "fontSize": 7.5, "fontWeight": "normal", "color": "#333333"}},
  {"width": 261, "height": 1.5, "data": {"values": []}, "mark": "point", "view": {"fill": "#1a4a66", "stroke": null}},
  {"width": 1, "height": 1, "data": {"values": []}, "mark": "point"},

  {"width": 1, "height": 51.5, "data": {"values": []}, "mark": "point"},
  {"width": 1, "height": 1, "data": {"values": []}, "mark": "point"},
  {"width": 1, "height": 1, "data": {"values": []}, "mark": "point"},
  {"width": 1, "height": 1, "data": {"values": []}, "mark": "point"},
  {"width": 1, "height": 1, "data": {"values": []}, "mark": "point"},
  {"width": 1, "height": 1, "data": {"values": []}, "mark": "point"},
  {"width": 1, "height": 1, "data": {"values": []}, "mark": "point"},

  {"hconcat": [
    {"width": 619, "height": 25, "data": {"values": [{"t": "敬请参阅最后一页特别声明"}]}, "mark": {"type": "text", "color": "#dce6ee", "fontSize": 8, "font": "Noto Sans CJK SC"}, "encoding": {"text": {"field": "t"}}, "view": {"fill": "#0a4a6e", "stroke": null}},
    {"width": 41, "height": 25, "data": {"values": [{"t": "5"}]}, "mark": {"type": "text", "color": "#34548f", "fontSize": 10, "fontWeight": "bold", "font": "Liberation Sans"}, "encoding": {"text": {"field": "t"}}, "view": {"fill": "#102c69", "stroke": null}}
  ], "bounds": "flush", "spacing": 0},
  {"width": 1, "height": 25, "data": {"values": []}, "mark": "point"},
  {"width": 1, "height": 1, "data": {"values": []}, "mark": "point"},
  {"width": 1, "height": 1, "data": {"values": []}, "mark": "point"},
  {"width": 1, "height": 1, "data": {"values": []}, "mark": "point"},
  {"width": 1, "height": 1, "data": {"values": []}, "mark": "point"},
  {"width": 1, "height": 1, "data": {"values": []}, "mark": "point"}
]
}
